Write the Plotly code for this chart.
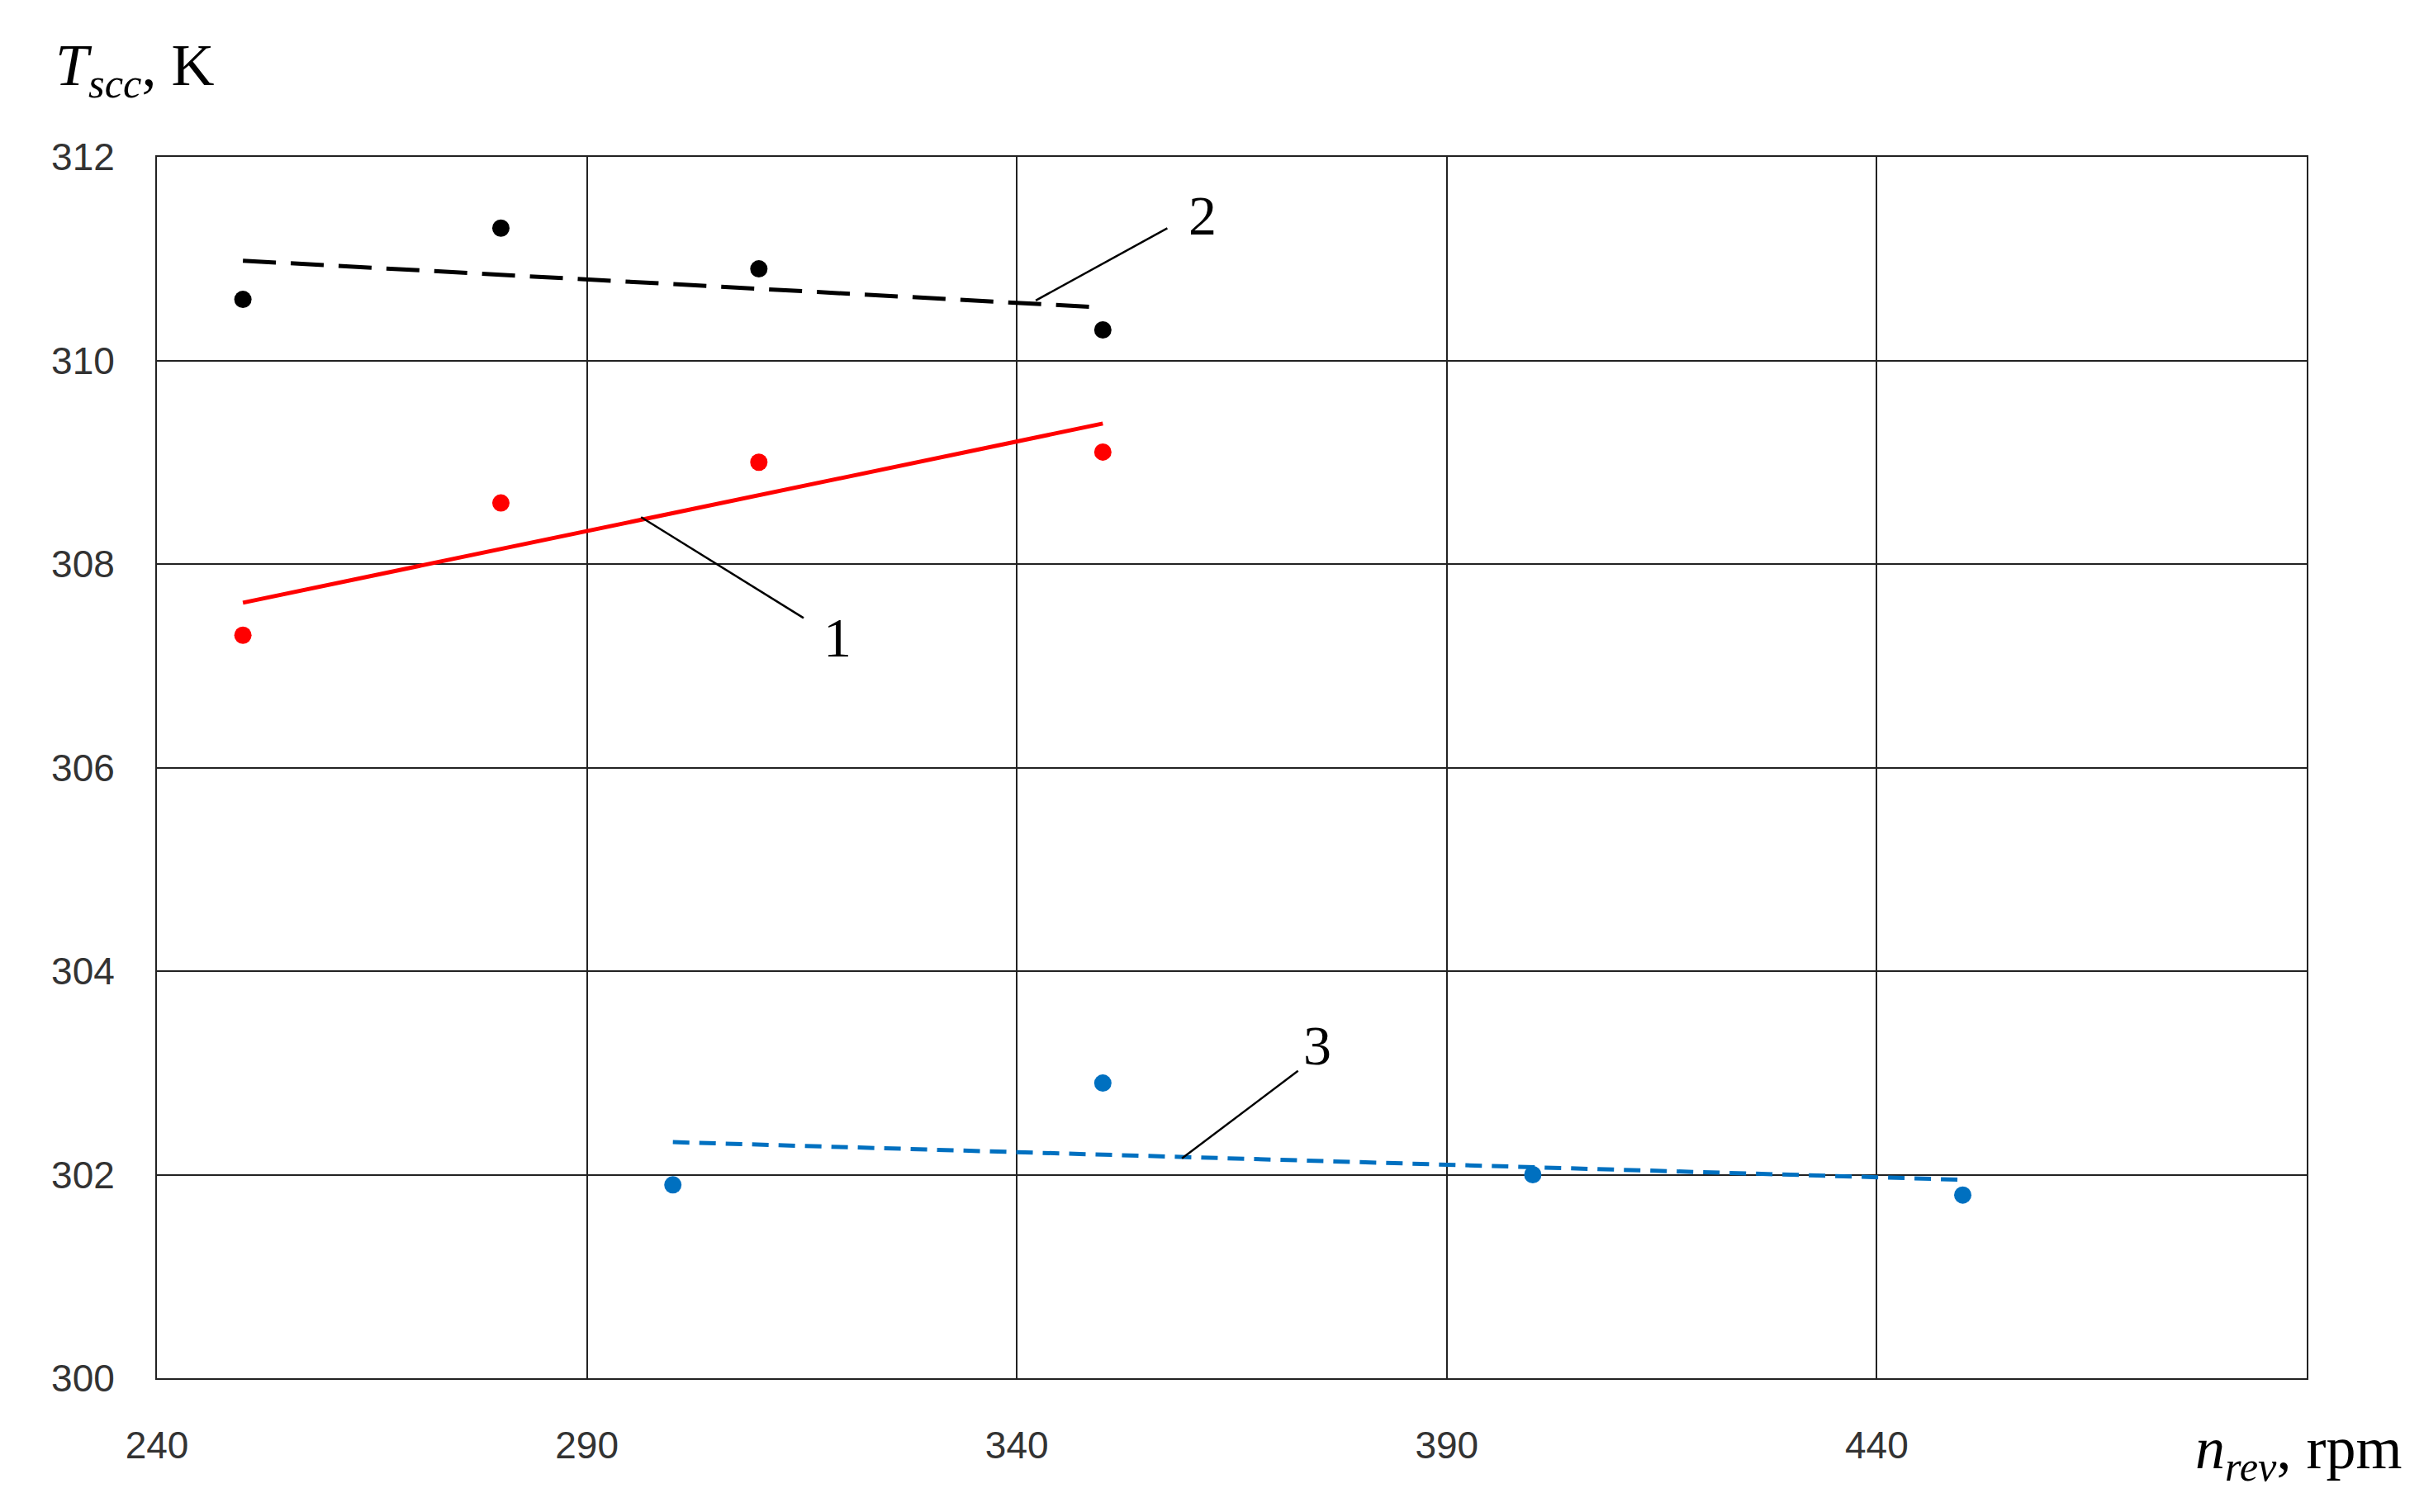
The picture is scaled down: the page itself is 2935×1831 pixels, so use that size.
import plotly.graph_objects as go

x1 = [250, 280, 310, 350]; y1 = [307.3, 308.6, 309.0, 309.1]
x2 = [250, 280, 310, 350]; y2 = [310.6, 311.3, 310.9, 310.3]
x3 = [300, 350, 400, 450]; y3 = [301.9, 302.9, 302.0, 301.8]
t1x = [250, 350]; t1y = [307.62, 309.38]
t2x = [250, 350]; t2y = [310.98, 310.52]
t3x = [300, 450]; t3y = [302.32, 301.95]
xticks = [240, 290, 340, 390, 440]
yticks = [300, 302, 304, 306, 308, 310, 312]

fig = go.Figure()
ms = 21
fig.add_trace(go.Scatter(x=t1x, y=t1y, mode="lines", line=dict(color="#ff0000", width=5)))
fig.add_trace(go.Scatter(x=t2x, y=t2y, mode="lines", line=dict(color="#000000", width=5, dash="40px,18px")))
fig.add_trace(go.Scatter(x=t3x, y=t3y, mode="lines", line=dict(color="#0070c0", width=5, dash="20px,12px")))
fig.add_trace(go.Scatter(x=x1, y=y1, mode="markers", marker=dict(color="#ff0000", size=ms)))
fig.add_trace(go.Scatter(x=x2, y=y2, mode="markers", marker=dict(color="#000000", size=ms)))
fig.add_trace(go.Scatter(x=x3, y=y3, mode="markers", marker=dict(color="#0070c0", size=ms)))

for (xa, ya, xb, yb) in [(342.2, 310.59, 357.5, 311.3), (296.3, 308.46, 315.2, 307.47), (359.2, 302.16, 372.7, 303.02)]:
    fig.add_shape(type="line", x0=xa, y0=ya, x1=xb, y1=yb, line=dict(color="black", width=2.5))
serif = "Liberation Serif"
for (tx, ty, t) in [(361.6, 311.42, "2"), (319.1, 307.28, "1"), (374.9, 303.27, "3")]:
    fig.add_annotation(x=tx, y=ty, text=t, showarrow=False, font=dict(family=serif, size=68, color="black"))

fig.add_annotation(xref="paper", yref="paper", x=-0.048, y=1.04, xanchor="left", yanchor="bottom",
                   text="<i>T<sub>scc</sub></i>, K", showarrow=False, font=dict(family=serif, size=72, color="black"))
fig.add_annotation(xref="paper", yref="paper", x=1.045, y=-0.061, xanchor="right", yanchor="middle",
                   text="<i>n<sub>rev</sub></i>, rpm", showarrow=False, font=dict(family=serif, size=72, color="black"))

fig.update_layout(
    width=2935, height=1831, showlegend=False,
    paper_bgcolor="white", plot_bgcolor="white",
    margin=dict(l=182, r=150, t=182, b=170),
    font=dict(family="Liberation Sans", size=46, color="#333"),
)
fig.update_xaxes(range=[240, 490], tickvals=xticks, showgrid=True, gridcolor="#222", gridwidth=2,
                 showline=True, linecolor="#222", linewidth=2, mirror=True, zeroline=False, ticks="",
                 ticklabelstandoff=40)
fig.update_yaxes(range=[300, 312], tickvals=yticks, showgrid=True, gridcolor="#222", gridwidth=2,
                 showline=True, linecolor="#222", linewidth=2, mirror=True, zeroline=False, ticks="",
                 ticklabelstandoff=40)
fig.write_html("out.html")
